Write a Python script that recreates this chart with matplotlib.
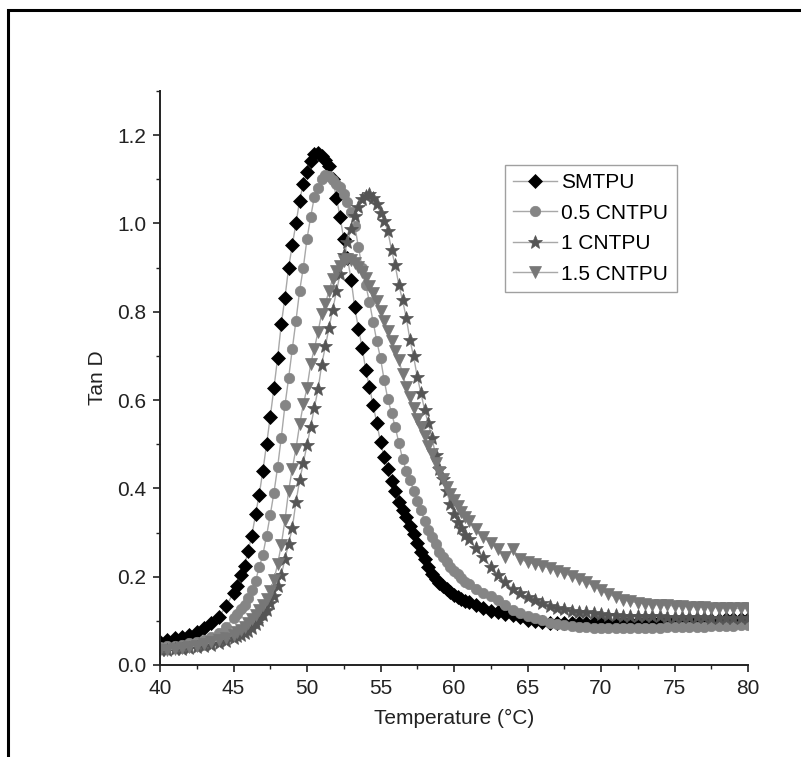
import numpy as np
import matplotlib
matplotlib.use("Agg")
import matplotlib.pyplot as plt
from matplotlib.patches import Rectangle
from matplotlib.ticker import MultipleLocator

plt.rcParams['font.family'] = ['Liberation Sans Narrow', 'Liberation Sans', 'DejaVu Sans']

# temperature sampling (deg C): 0.5 steps in the tails, 0.25 steps through the peaks
temperature = np.concatenate([np.arange(40, 45, 0.5),
                              np.arange(45, 61, 0.25),
                              np.arange(61, 80.01, 0.5)])

smtpu = [
    0.052, 0.057, 0.061, 0.064, 0.068, 0.075, 0.084, 0.095, 0.109, 0.133,
    0.164, 0.180, 0.203, 0.225, 0.259, 0.293, 0.341, 0.386,
    0.440, 0.500, 0.562, 0.627, 0.695, 0.772, 0.832, 0.900,
    0.951, 1.000, 1.052, 1.090, 1.116, 1.142, 1.158, 1.160,
    1.152, 1.143, 1.130, 1.100, 1.058, 1.015, 0.965, 0.922,
    0.873, 0.810, 0.762, 0.719, 0.668, 0.630, 0.588, 0.548,
    0.505, 0.472, 0.443, 0.417, 0.394, 0.370, 0.351, 0.335,
    0.314, 0.297, 0.277, 0.256, 0.239, 0.223, 0.206, 0.194,
    0.186, 0.178, 0.171, 0.165, 0.159, 0.154, 0.150, 0.146,
    0.143, 0.136, 0.128, 0.123, 0.119, 0.116, 0.113, 0.108, 0.102, 0.099,
    0.097, 0.096, 0.095, 0.095, 0.094, 0.094, 0.094, 0.095, 0.095, 0.096,
    0.096, 0.097, 0.097, 0.098, 0.098, 0.099, 0.099, 0.100, 0.100, 0.101,
    0.101, 0.102, 0.102, 0.103, 0.103, 0.104, 0.104, 0.105, 0.105,
]

cntpu_05 = [
    0.040, 0.042, 0.044, 0.046, 0.049, 0.052, 0.057, 0.064, 0.073, 0.087,
    0.106, 0.116, 0.127, 0.137, 0.151, 0.170, 0.190, 0.222,
    0.250, 0.293, 0.340, 0.390, 0.448, 0.515, 0.588, 0.650,
    0.716, 0.780, 0.848, 0.900, 0.965, 1.015, 1.060, 1.080,
    1.100, 1.110, 1.108, 1.098, 1.090, 1.083, 1.066, 1.048,
    1.027, 0.995, 0.946, 0.900, 0.860, 0.822, 0.777, 0.733,
    0.695, 0.645, 0.602, 0.571, 0.539, 0.503, 0.467, 0.440,
    0.420, 0.395, 0.372, 0.351, 0.326, 0.306, 0.289, 0.273,
    0.256, 0.244, 0.233, 0.222, 0.214, 0.205, 0.196, 0.189,
    0.183, 0.171, 0.164, 0.157, 0.148, 0.136, 0.125, 0.118, 0.112, 0.106,
    0.101, 0.096, 0.093, 0.090, 0.088, 0.086, 0.085, 0.084, 0.083, 0.083,
    0.083, 0.083, 0.083, 0.083, 0.084, 0.084, 0.084, 0.085, 0.085, 0.086,
    0.086, 0.087, 0.087, 0.088, 0.088, 0.089, 0.089, 0.090, 0.090,
]

cntpu_1 = [
    0.034, 0.035, 0.036, 0.037, 0.039, 0.041, 0.043, 0.046, 0.050, 0.055,
    0.062, 0.065, 0.069, 0.073, 0.078, 0.084, 0.092, 0.101,
    0.113, 0.125, 0.140, 0.157, 0.180, 0.204, 0.240, 0.275,
    0.310, 0.370, 0.418, 0.458, 0.498, 0.540, 0.583, 0.624,
    0.680, 0.722, 0.764, 0.805, 0.846, 0.885, 0.928, 0.958,
    0.987, 1.017, 1.038, 1.055, 1.063, 1.066, 1.058, 1.043,
    1.024, 1.006, 0.983, 0.940, 0.905, 0.861, 0.826, 0.787,
    0.737, 0.699, 0.653, 0.616, 0.578, 0.547, 0.514, 0.476,
    0.445, 0.421, 0.393, 0.365, 0.343, 0.325, 0.310, 0.295,
    0.286, 0.264, 0.244, 0.222, 0.204, 0.187, 0.171, 0.162, 0.154, 0.147,
    0.140, 0.134, 0.130, 0.126, 0.123, 0.121, 0.119, 0.117, 0.115, 0.114,
    0.113, 0.112, 0.111, 0.111, 0.110, 0.110, 0.110, 0.109, 0.109, 0.109,
    0.108, 0.108, 0.108, 0.107, 0.107, 0.107, 0.106, 0.106, 0.106,
]

cntpu_15 = [
    0.033, 0.035, 0.037, 0.039, 0.041, 0.044, 0.047, 0.051, 0.056, 0.062,
    0.069, 0.074, 0.080, 0.087, 0.095, 0.104, 0.113, 0.124,
    0.136, 0.150, 0.167, 0.193, 0.228, 0.272, 0.328, 0.395,
    0.445, 0.490, 0.545, 0.590, 0.627, 0.682, 0.716, 0.755,
    0.796, 0.818, 0.848, 0.875, 0.892, 0.903, 0.914, 0.920,
    0.918, 0.910, 0.902, 0.889, 0.876, 0.859, 0.842, 0.824,
    0.802, 0.779, 0.757, 0.734, 0.712, 0.690, 0.660, 0.630,
    0.607, 0.581, 0.558, 0.538, 0.518, 0.497, 0.478, 0.458,
    0.438, 0.421, 0.404, 0.388, 0.374, 0.360, 0.347, 0.336,
    0.326, 0.307, 0.290, 0.276, 0.263, 0.245, 0.263, 0.240, 0.233, 0.228,
    0.224, 0.220, 0.214, 0.208, 0.201, 0.194, 0.187, 0.180, 0.170, 0.160,
    0.154, 0.148, 0.144, 0.141, 0.139, 0.137, 0.136, 0.135, 0.134, 0.133,
    0.132, 0.132, 0.131, 0.130, 0.130, 0.129, 0.129, 0.128, 0.128,
]

series_labels = ["SMTPU", "0.5 CNTPU", "1 CNTPU", "1.5 CNTPU"]

styles = [
    dict(marker="D", ms=7.0, color="#000000"),
    dict(marker="o", ms=7.5, color="#858585"),
    dict(marker="*", ms=10.0, color="#555555"),
    dict(marker="v", ms=8.0, color="#777777"),
]

fig = plt.figure(figsize=(8.01, 7.57), dpi=100)

# outer frame of the picture (only top and left edges are visible)
fig.patches.append(Rectangle((8 / 801, -0.1), 1.2, 1.1 - 10 / 757,
                             transform=fig.transFigure, fill=False,
                             edgecolor="black", linewidth=2.2))

ax = fig.add_axes([160 / 801, 1 - 665 / 757, 588 / 801, 574 / 757])

for vals, lab, st in zip([smtpu, cntpu_05, cntpu_1, cntpu_15], series_labels, styles):
    ax.plot(temperature, vals, linestyle="-", linewidth=1.0, color="#a8a8a8",
            marker=st["marker"], markersize=st["ms"],
            markerfacecolor=st["color"], markeredgecolor=st["color"],
            markeredgewidth=0.5, label=lab)

ax.set_xlim(40, 80)
ax.set_ylim(0, 1.3)
ax.xaxis.set_major_locator(MultipleLocator(5))
ax.xaxis.set_minor_locator(MultipleLocator(2.5))
ax.yaxis.set_major_locator(MultipleLocator(0.2))
ax.yaxis.set_minor_locator(MultipleLocator(0.1))
ax.yaxis.set_major_formatter(matplotlib.ticker.FormatStrFormatter("%.1f"))

for side in ["top", "right"]:
    ax.spines[side].set_visible(False)
for side in ["left", "bottom"]:
    ax.spines[side].set_linewidth(1.4)
    ax.spines[side].set_color("#222222")

ax.tick_params(which="major", direction="out", length=5, width=1.2,
               labelsize=15, colors="#222222", pad=5)
ax.tick_params(which="minor", direction="out", length=3, width=1.0, colors="#222222")

ax.set_xlabel("Temperature (°C)", fontsize=15, color="#222222", labelpad=8)
ax.set_ylabel("Tan D", fontsize=15, color="#222222", labelpad=7)

leg = ax.legend(loc="upper left", bbox_to_anchor=(505 / 801, 1 - 165 / 757),
                bbox_transform=fig.transFigure, fontsize=15, frameon=True,
                fancybox=False, edgecolor="#888888", handlelength=2.1,
                handletextpad=0.2, labelspacing=0.55, borderpad=0.4,
                borderaxespad=0)
leg.get_frame().set_linewidth(1.0)

fig.savefig("out.png", dpi=100)
